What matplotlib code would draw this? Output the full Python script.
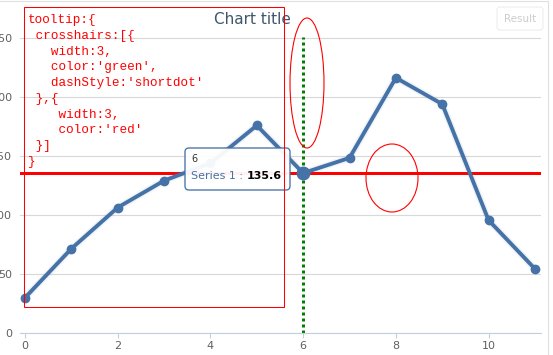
import matplotlib
matplotlib.use('Agg')
import matplotlib.pyplot as plt
import matplotlib.patheffects as pe
from matplotlib.patches import Ellipse, Rectangle, FancyBboxPatch
from matplotlib.text import Annotation
from matplotlib.transforms import IdentityTransform

# data
x_vals = list(range(12))
series1 = [29.9, 71.5, 106.4, 129.2, 144.0, 176.0, 135.6, 148.5, 216.4, 194.1, 95.6, 54.4]
hover = 6
y_ticks = [0, 50, 100, 150, 200, 250]
x_ticks = [0, 2, 4, 6, 8, 10]
title = 'Chart title'
series_name = 'Series 1'
code_lines = [
    "tooltip:{",
    " crosshairs:[{",
    "   width:3,",
    "   color:'green',",
    "   dashStyle:'shortdot'",
    " },{",
    "    width:3,",
    "    color:'red'",
    " }]",
    "}",
]

W, H = 553, 355
blue = '#4572A7'


def fx(px):
    return px / W


def fy(py):
    return 1 - py / H


plt.rcParams["font.family"] = "DejaVu Sans"
fig = plt.figure(figsize=(W / 100, H / 100), dpi=100)
ax = fig.add_axes([fx(20), fy(333), fx(541) - fx(20), fy(37) - fy(333)])
ax.set_xlim(-0.108, 11.13)
ax.set_ylim(0, 251)

ax.set_yticks(y_ticks)
ax.set_xticks(x_ticks)
ax.yaxis.grid(True, color='#D8D8D8', lw=0.8)
ax.set_axisbelow(True)
for s in ['left', 'right', 'top']:
    ax.spines[s].set_visible(False)
ax.spines['bottom'].set_color('#C0D0E0')
ax.spines['bottom'].set_linewidth(0.8)
ax.tick_params(axis='y', length=0, pad=5.8, labelsize=8, labelcolor='#606060')
ax.tick_params(axis='x', length=3.5, width=0.8, color='#C0D0E0', pad=2,
               labelsize=8, labelcolor='#606060')

# crosshairs
ax.axvline(x_vals[hover], color='green', lw=2.16, linestyle=(0, (1, 1)),
           dash_capstyle='butt', zorder=2)
ax.axhline(series1[hover], color='red', lw=2.16, zorder=2)

ax.plot(x_vals, series1, color=blue, lw=2.8, zorder=3,
        path_effects=[pe.Stroke(linewidth=5, foreground=blue, alpha=0.08), pe.Normal()])
ax.plot(x_vals, series1, 'o', color=blue, ms=6, zorder=3)
ax.plot(x_vals[hover], series1[hover], 'o', color=blue, ms=9, zorder=4)

ident = IdentityTransform()

# tooltip
tip = FancyBboxPatch((185, H - 190), 105, 42, boxstyle='round,pad=0,rounding_size=4',
                     fc='white', ec=blue, lw=1, alpha=0.95, transform=ident, zorder=5)
fig.add_artist(tip)
fig.text(fx(191), fy(159), str(x_vals[hover]), fontsize=7, color='#333333',
         va='center', zorder=6)
t1 = fig.text(fx(191), fy(176), series_name + ' : ', fontsize=8, color=blue,
              va='center', zorder=6)
val = Annotation(f'{series1[hover]}', xy=(1, 0.5), xycoords=t1, va='center',
                 fontsize=8, fontweight='bold', color='black')
val.set_zorder(6)
fig.add_artist(val)

# red notes
fig.add_artist(Rectangle((23.5, H - 306.5), 260, 300, fill=False, ec='red', lw=0.75,
                         transform=ident, zorder=7))
fig.add_artist(Ellipse((307, H - 83), 34, 130, fill=False, ec='red', lw=0.8,
                       transform=ident, zorder=7))
fig.add_artist(Ellipse((392, H - 178), 52, 68, fill=False, ec='red', lw=0.8,
                       transform=ident, zorder=7))
fig.text(fx(28), fy(14), '\n'.join(code_lines), family='Liberation Mono',
         fontsize=9.1, color='red', va='top', ha='left', linespacing=1.42, zorder=7)

fig.text(fx(252), fy(19), title, fontsize=11, color='#3E576F', ha='center', va='center')

# result button and frame
fig.add_artist(FancyBboxPatch((497, H - 30), 46, 23, boxstyle='round,pad=0,rounding_size=3',
                              fc='white', ec='#EEEEEE', lw=0.8, transform=ident))
fig.text(fx(520), fy(18.5), 'Result', fontsize=7.5, color='#CCCCCC', ha='center', va='center')
fig.add_artist(plt.Line2D([fx(548), fx(548)], [0, fy(2)], color='#E0E0E0', lw=0.8))
fig.add_artist(plt.Line2D([0, fx(548)], [fy(1), fy(1)], color='#E0E0E0', lw=0.8))

plt.savefig('out.png', dpi=100)
plt.close()
